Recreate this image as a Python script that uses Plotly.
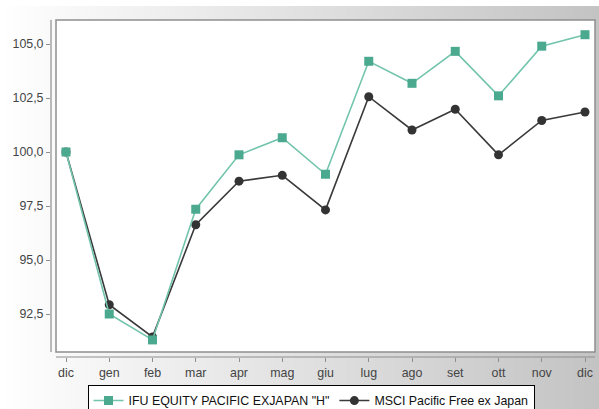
import plotly.graph_objects as go

months = ["dic", "gen", "feb", "mar", "apr", "mag", "giu", "lug", "ago", "set", "ott", "nov", "dic"]
ifu = [100.0, 92.5, 91.3, 97.35, 99.87, 100.66, 98.97, 104.2, 103.18, 104.66, 102.6, 104.9, 105.43]
msci = [100.0, 92.93, 91.44, 96.63, 98.65, 98.92, 97.32, 102.56, 101.02, 101.98, 99.87, 101.46, 101.85]
yticks = [92.5, 95.0, 97.5, 100.0, 102.5, 105.0]
yticklabels = ["92,5", "95,0", "97,5", "100,0", "102,5", "105,0"]
names = ['IFU EQUITY PACIFIC EXJAPAN "H"', "MSCI Pacific Free ex Japan"]

W, H = 599, 409
L, R, T, B = 51, 595, 20, 357  # plot domain in px
dw, dh = R - L, B - T
FONT = "Liberation Sans, Arial, sans-serif"

def px_x(p):
    return (p - L) / dw

def px_y(p):
    return (B - p) / dh

xs = list(range(len(months)))

fig = go.Figure()
fig.add_trace(go.Scatter(
    x=xs, y=msci, name=names[1], mode="lines+markers", legendrank=2,
    line=dict(color="#3a3a3a", width=1.6),
    marker=dict(symbol="circle", size=9, color="#333333"),
))
fig.add_trace(go.Scatter(
    x=xs, y=ifu, name=names[0], mode="lines+markers", legendrank=1,
    line=dict(color="#72c4ac", width=1.6),
    marker=dict(symbol="square", size=9, color="#4aa98f"),
))

shapes = []
# gradient background
n = 120
for i in range(n):
    x0 = W * i / n
    x1 = W * (i + 1) / n
    t = (i + 0.5) / n
    v = int(round(255 - (255 - 195) * t))
    shapes.append(dict(type="rect", xref="paper", yref="paper",
                       x0=px_x(x0), x1=px_x(x1) + 0.002, y0=px_y(H), y1=px_y(6),
                       fillcolor=f"rgb({v},{v},{v})", line=dict(width=0), layer="below"))
# white plot frame
shapes.append(dict(type="rect", xref="paper", yref="paper",
                   x0=px_x(56), x1=px_x(595), y0=px_y(352), y1=px_y(20),
                   fillcolor="white", line=dict(color="#8e8e8e", width=1.5), layer="below"))
# axis lines
shapes.append(dict(type="line", xref="paper", yref="paper",
                   x0=px_x(51), x1=px_x(51), y0=px_y(352), y1=px_y(20),
                   line=dict(color="#8e8e8e", width=1.2), layer="below"))
shapes.append(dict(type="line", xref="paper", yref="paper",
                   x0=px_x(56), x1=px_x(595), y0=px_y(357), y1=px_y(357),
                   line=dict(color="#8e8e8e", width=1.2), layer="below"))

fig.update_layout(
    width=W, height=H,
    margin=dict(l=L, r=W - R, t=T, b=H - B, pad=0, autoexpand=False),
    paper_bgcolor="rgba(0,0,0,0)",
    plot_bgcolor="rgba(0,0,0,0)",
    shapes=shapes,
    showlegend=True,
    legend=dict(
        orientation="h", x=px_x(311), xanchor="center", y=px_y(385), yanchor="top",
        bgcolor="white", bordercolor="black", borderwidth=1,
        font=dict(family=FONT, size=12.4, color="#111111"),
        itemwidth=30, tracegroupgap=0,
    ),
    font=dict(family=FONT, size=12.4, color="#444444"),
)
fig.update_xaxes(
    range=[-15 / 43.25, 12 + 10 / 43.25],
    tickmode="array", tickvals=xs, ticktext=months,
    showgrid=False, zeroline=False, showline=False, automargin=False,
    ticks="outside", ticklen=4, tickcolor="#8e8e8e", tickwidth=1,
    tickfont=dict(family=FONT, size=12.4, color="#444444"),
)
fig.update_yaxes(
    range=[100 - (357 - 152) / 21.6, 100 + (152 - 20) / 21.6],
    tickmode="array", tickvals=yticks, ticktext=yticklabels,
    showgrid=False, zeroline=False, showline=False, automargin=False,
    ticks="outside", ticklen=4, tickcolor="#8e8e8e", tickwidth=1,
    tickfont=dict(family=FONT, size=12.4, color="#444444"),
)

fig.write_html("out.html", config={"displayModeBar": False},
               post_script="document.body.style.margin='0';document.body.style.overflow='hidden';")
